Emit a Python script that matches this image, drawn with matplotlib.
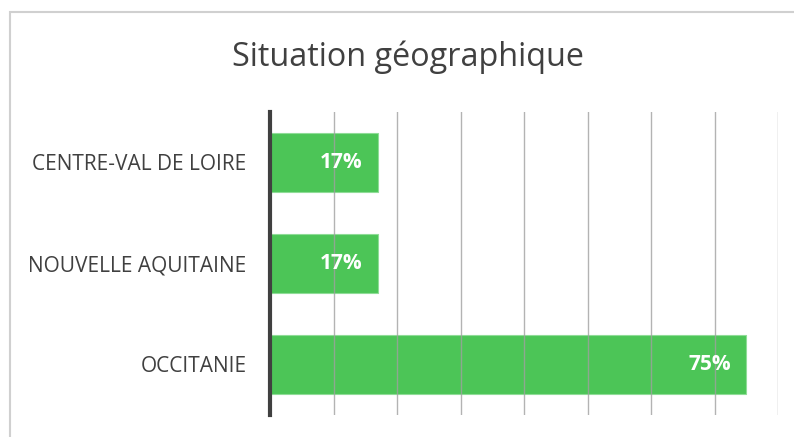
import matplotlib.pyplot as plt
from matplotlib.patches import Rectangle

regions = ['CENTRE-VAL DE LOIRE', 'NOUVELLE AQUITAINE', 'OCCITANIE']
shares = [17, 17, 75]
labels = ['17%', '17%', '75%']

plt.rcParams['font.family'] = ['Open Sans', 'DejaVu Sans']

fig = plt.figure(figsize=(7.94, 4.37), dpi=100)
W, H = 794, 437

# light frame of the chart area (right/bottom edges fall outside the image)
fig.patches.append(Rectangle((9.5 / W, -0.1), 1.2, (H - 12.5) / H + 0.1,
                             transform=fig.transFigure, fill=False,
                             edgecolor='#d0d0d0', linewidth=1.5))

ax = fig.add_axes([270 / W, (H - 415) / H, (778 - 270) / W, (415 - 112) / H])
y = list(range(len(regions)))
ax.barh(y, shares, height=0.59, color='#4cc557', edgecolor='#8fdc97',
        linewidth=0.8, zorder=1)
ax.set_xlim(0, 80)
ax.set_ylim(len(regions) - 0.5, -0.5)
ax.set_xticks(range(0, 81, 10))
ax.xaxis.grid(True, color='#a0a0a0', linewidth=1.0, alpha=0.8, zorder=3)
ax.set_axisbelow(False)
ax.tick_params(axis='x', length=0, labelbottom=False)
ax.tick_params(axis='y', length=0, pad=17, labelsize=15, labelcolor='#404040')
ax.set_yticks(y)
ax.set_yticklabels(regions)
for s in ['top', 'right', 'bottom']:
    ax.spines[s].set_visible(False)
ax.spines['left'].set_color('#404040')
ax.spines['left'].set_linewidth(3)
ax.spines['left'].set_zorder(5)

for yi, v, t in zip(y, shares, labels):
    ax.annotate(t, (v, yi), xytext=(-11, 0), textcoords='offset points',
                ha='right', va='center', color='white', fontsize=15,
                fontweight='bold', zorder=6)

fig.text(408 / W, 1 - 57 / H, 'Situation géographique', ha='center',
         va='center', fontsize=23.3, color='#404040')

fig.savefig('out.png', dpi=100)
